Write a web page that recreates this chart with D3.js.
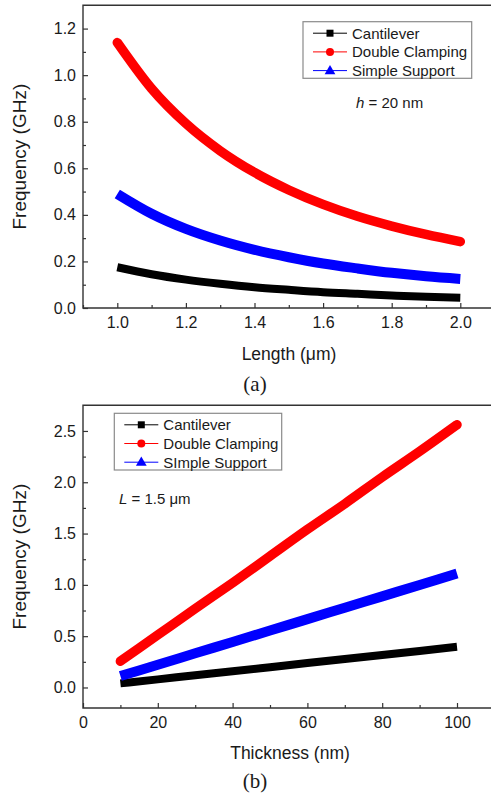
<!DOCTYPE html>
<html>
<head>
<meta charset="utf-8">
<script src="https://cdn.jsdelivr.net/npm/d3@7"></script>
<style>
  html, body { margin: 0; padding: 0; background: #fff; }
  svg { display: block; }
  text { font-family: "Liberation Sans", Arial, sans-serif; fill: #1a1a1a; }
</style>
</head>
<body>
<svg id="fig" width="491" height="796"></svg>
<script>
// ---- Panel (a): resonance frequency vs beam length, h = 20 nm ----
const lengthUm = [1.0, 1.1, 1.2, 1.3, 1.4, 1.5, 1.6, 1.7, 1.8, 1.9, 2.0];
const aCantilever = [0.175, 0.145, 0.122, 0.104, 0.089, 0.078, 0.068, 0.061, 0.054, 0.048, 0.044];
const aDoubleClamping = [1.14, 0.942, 0.792, 0.675, 0.582, 0.507, 0.445, 0.394, 0.352, 0.316, 0.285];
const aSimpleSupport = [0.49, 0.405, 0.34, 0.29, 0.25, 0.218, 0.191, 0.17, 0.151, 0.136, 0.125];
const aXTicks = [1.0, 1.2, 1.4, 1.6, 1.8, 2.0];
const aYTicks = [0.0, 0.2, 0.4, 0.6, 0.8, 1.0, 1.2];

// ---- Panel (b): resonance frequency vs thickness, L = 1.5 um ----
const thicknessNm = [10, 20, 30, 40, 50, 60, 70, 80, 90, 100];
const bCantilever = [0.040, 0.079, 0.119, 0.158, 0.198, 0.238, 0.277, 0.317, 0.356, 0.396];
const bDoubleClamping = [0.256, 0.512, 0.768, 1.02, 1.28, 1.54, 1.79, 2.05, 2.30, 2.56];
const bSimpleSupport = [0.111, 0.222, 0.333, 0.444, 0.555, 0.666, 0.777, 0.888, 0.999, 1.11];
const bXTicks = [0, 20, 40, 60, 80, 100];
const bYTicks = [0.0, 0.5, 1.0, 1.5, 2.0, 2.5];

const seriesStyle = [
  { key: "Cantilever", color: "#000000", width: 8, cap: "butt", marker: "square" },
  { key: "Double Clamping", color: "#ff0000", width: 9.5, cap: "round", marker: "circle" },
  { key: "Simple Support", color: "#0000ff", width: 10, cap: "butt", marker: "triangle" }
];

const svg = d3.select("#fig");

function panel(opt) {
  const g = svg.append("g");
  const x = d3.scaleLinear().domain(opt.xDomain).range([opt.left, opt.right]);
  const y = d3.scaleLinear().domain(opt.yDomain).range([opt.bottom, opt.top]);

  // data lines
  const line = d3.line().x(d => x(d[0])).y(d => y(d[1])).curve(d3.curveMonotoneX);
  opt.series.forEach((vals, i) => {
    const st = seriesStyle[i];
    g.append("path")
      .datum(opt.xs.map((v, j) => [v, vals[j]]))
      .attr("d", line)
      .attr("fill", "none")
      .attr("stroke", st.color)
      .attr("stroke-width", st.width)
      .attr("stroke-linecap", st.cap)
      .attr("stroke-linejoin", "round");
  });

  // minor ticks
  g.append("g").attr("transform", `translate(0,${opt.bottom})`)
    .call(d3.axisBottom(x).tickValues(opt.xMinor).tickFormat("").tickSizeInner(-3).tickSizeOuter(0))
    .call(s => s.select(".domain").remove());
  g.append("g").attr("transform", `translate(${opt.left},0)`)
    .call(d3.axisLeft(y).tickValues(opt.yMinor).tickFormat("").tickSizeInner(-3).tickSizeOuter(0))
    .call(s => s.select(".domain").remove());

  // major ticks with labels
  const xa = g.append("g").attr("transform", `translate(0,${opt.bottom})`)
    .call(d3.axisBottom(x).tickValues(opt.xTicks).tickFormat(opt.xFmt).tickSizeInner(-5).tickSizeOuter(0).tickPadding(9));
  xa.select(".domain").remove();
  const ya = g.append("g").attr("transform", `translate(${opt.left},0)`)
    .call(d3.axisLeft(y).tickValues(opt.yTicks).tickFormat(d3.format(".1f")).tickSizeInner(-5).tickSizeOuter(0).tickPadding(7));
  ya.select(".domain").remove();
  g.selectAll(".tick line").attr("stroke", "#333").attr("stroke-width", 1.2);
  g.selectAll(".tick text").style("font-family", "Liberation Sans, Arial, sans-serif")
    .style("font-size", "16px").attr("fill", "#1a1a1a");

  // frame (left axis, bottom axis, top border)
  g.append("path")
    .attr("d", `M${opt.right},${opt.top}H${opt.left}V${opt.bottom}H${opt.right}`)
    .attr("fill", "none").attr("stroke", "#333").attr("stroke-width", 1.4);

  // axis titles
  const xt = g.append("text").attr("x", opt.xTitleX).attr("y", opt.xTitleY)
    .attr("text-anchor", "middle").style("font-size", "17.5px");
  opt.xTitle(xt);
  g.append("text")
    .attr("transform", `translate(26,${(opt.top + opt.bottom) / 2}) rotate(-90)`)
    .attr("text-anchor", "middle").style("font-size", "19px")
    .text("Frequency (GHz)");

  // legend
  const L = opt.legend;
  g.append("rect").attr("x", L.x).attr("y", L.y).attr("width", L.w).attr("height", L.h)
    .attr("fill", "#fff").attr("stroke", "#8a8a8a").attr("stroke-width", 1.2);
  opt.legendLabels.forEach((lab, i) => {
    const st = seriesStyle[i];
    const cy = L.y + 11.5 + i * 18.7;
    const x0 = L.x + 10, x1 = L.x + 44, xm = (x0 + x1) / 2;
    g.append("line").attr("x1", x0).attr("x2", x1).attr("y1", cy).attr("y2", cy)
      .attr("stroke", st.color).attr("stroke-width", 1);
    if (st.marker === "square") {
      g.append("rect").attr("x", xm - 3.5).attr("y", cy - 3.5).attr("width", 7).attr("height", 7).attr("fill", st.color);
    } else if (st.marker === "circle") {
      g.append("circle").attr("cx", xm).attr("cy", cy).attr("r", 4).attr("fill", st.color);
    } else {
      g.append("path").attr("d", d3.symbol(d3.symbolTriangle, 50)()).attr("transform", `translate(${xm},${cy + 0.5})`).attr("fill", st.color);
    }
    g.append("text").attr("x", L.x + 49).attr("y", cy).attr("dy", "0.36em")
      .style("font-size", "15px").text(lab);
  });

  // annotation
  const an = g.append("text").attr("x", opt.note.x).attr("y", opt.note.y).style("font-size", "15px");
  opt.note.build(an);

  // panel label
  g.append("text").attr("x", 255).attr("y", opt.capY).attr("text-anchor", "middle")
    .style("font-family", "Liberation Serif, Times New Roman, serif").style("font-size", "21px")
    .text(opt.caption);
}

panel({
  xs: lengthUm,
  series: [aCantilever, aDoubleClamping, aSimpleSupport],
  xDomain: [0.9, 2.1], yDomain: [0, 1.3],
  left: 83, right: 494.6, top: 5.3, bottom: 308,
  xTicks: aXTicks, yTicks: aYTicks,
  xMinor: [0.9, 1.1, 1.3, 1.5, 1.7, 1.9], yMinor: [0.1, 0.3, 0.5, 0.7, 0.9, 1.1],
  xFmt: d3.format(".1f"),
  xTitleX: 289, xTitleY: 360,
  xTitle: t => { t.append("tspan").text("Length ("); t.append("tspan").text("\u03bcm"); t.append("tspan").text(")"); },
  legend: { x: 303, y: 21.7, w: 168.7, h: 56.6 },
  legendLabels: ["Cantilever", "Double Clamping", "Simple Support"],
  note: { x: 356, y: 108, build: t => { t.append("tspan").style("font-style", "italic").text("h"); t.append("tspan").text(" = 20 nm"); } },
  caption: "(a)", capY: 391
});

panel({
  xs: thicknessNm,
  series: [bCantilever, bDoubleClamping, bSimpleSupport],
  xDomain: [0, 110], yDomain: [-0.2, 2.75],
  left: 83, right: 494.4, top: 405.3, bottom: 708,
  xTicks: bXTicks, yTicks: bYTicks,
  xMinor: [10, 30, 50, 70, 90], yMinor: [0.25, 0.75, 1.25, 1.75, 2.25],
  xFmt: d3.format("d"),
  xTitleX: 290, xTitleY: 759,
  xTitle: t => t.text("Thickness (nm)"),
  legend: { x: 114.3, y: 413.3, w: 167.4, h: 56.7 },
  legendLabels: ["Cantilever", "Double Clamping", "SImple Support"],
  note: { x: 119, y: 504, build: t => { t.append("tspan").style("font-style", "italic").text("L"); t.append("tspan").text(" = 1.5 \u03bcm"); } },
  caption: "(b)", capY: 788
});
</script>
</body>
</html>
